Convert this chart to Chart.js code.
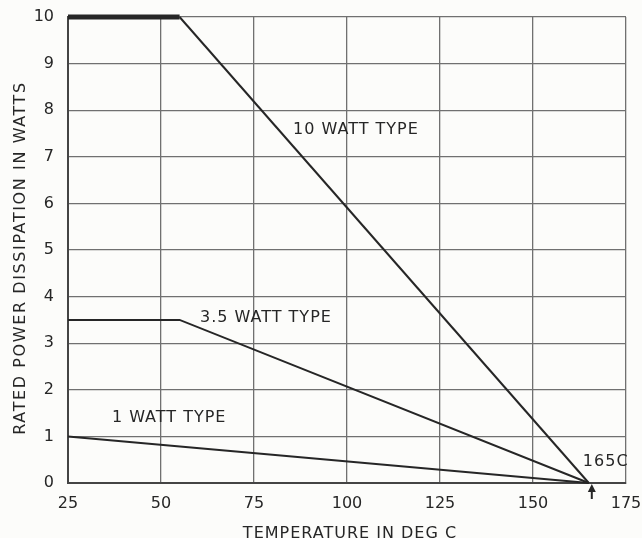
<!DOCTYPE html>
<html>
<head>
<meta charset="utf-8">
<script src="https://cdn.jsdelivr.net/npm/chart.js@4.4.1/dist/chart.umd.min.js"></script>
<style>
  html, body { margin: 0; padding: 0; background: #fcfcfa; }
  #wrap { width: 642px; height: 538px; }
</style>
</head>
<body>
<div id="wrap"><canvas id="derating"></canvas></div>
<script>
// derating curves: temperature (deg C) vs rated watts
const temp10 = [25, 55, 165];
const watts10 = [10, 10, 0];
const temp35 = [25, 55, 165];
const watts35 = [3.5, 3.5, 0];
const temp1 = [25, 165];
const watts1 = [1, 0];

const xTicks = [25, 50, 75, 100, 125, 150, 175];
const yTicks = [0, 1, 2, 3, 4, 5, 6, 7, 8, 9, 10];

const xTitle = 'TEMPERATURE IN DEG C';
const yTitle = 'RATED POWER DISSIPATION IN WATTS';

const INK = '#262626';
const GRID = '#707070';
const FONT = '"DejaVu Sans", sans-serif';

const pts = (xs, ys) => xs.map((x, i) => ({ x: x, y: ys[i] }));

// curve names and the 165C end mark, placed in data units
const notes = [
  { text: '10 WATT TYPE', x: 85.5, y: 7.57 },
  { text: '3.5 WATT TYPE', x: 60.5, y: 3.54 },
  { text: '1 WATT TYPE', x: 36.8, y: 1.39 },
  { text: '165C', x: 163.4, y: 0.45 }
];

const notesPlugin = {
  id: 'notes',
  afterDatasetsDraw(chart) {
    const { ctx, scales: { x, y } } = chart;
    ctx.save();
    ctx.fillStyle = INK;
    ctx.letterSpacing = '1px';
    ctx.font = '16px ' + FONT;
    ctx.textBaseline = 'middle';
    ctx.textAlign = 'left';
    notes.forEach(n => ctx.fillText(n.text, x.getPixelForValue(n.x), y.getPixelForValue(n.y)));

    // axis titles, spaced out like stencil lettering
    ctx.textAlign = 'center';
    ctx.fillText(xTitle, 350, 534);
    ctx.save();
    ctx.translate(21, 258);
    ctx.rotate(-Math.PI / 2);
    ctx.letterSpacing = '1.6px';
    ctx.fillText(yTitle, 0, 0);
    ctx.restore();

    // little arrow pointing up at 165
    const ax = x.getPixelForValue(165) + 3;
    const ay = y.getPixelForValue(0) + 1;
    ctx.strokeStyle = INK;
    ctx.lineWidth = 2;
    ctx.beginPath();
    ctx.moveTo(ax, ay + 4);
    ctx.lineTo(ax, ay + 15);
    ctx.stroke();
    ctx.beginPath();
    ctx.moveTo(ax, ay);
    ctx.lineTo(ax - 4, ay + 8);
    ctx.lineTo(ax + 4, ay + 8);
    ctx.closePath();
    ctx.fill();
    ctx.restore();
  }
};

const lineSet = (data) => ({
  data: data,
  borderColor: INK,
  borderWidth: 2,
  pointRadius: 0,
  tension: 0,
  clip: false,
  segment: {
    // the flat top of the 10 W curve is drawn heavier
    borderWidth: c => (c.p0.parsed.y === 10 && c.p1.parsed.y === 10 ? 5 : 2)
  }
});

new Chart(document.getElementById('derating'), {
  type: 'line',
  data: {
    datasets: [
      lineSet(pts(temp10, watts10)),
      lineSet(pts(temp35, watts35)),
      lineSet(pts(temp1, watts1))
    ]
  },
  options: {
    responsive: true,
    maintainAspectRatio: false,
    animation: false,
    layout: { padding: { top: 17, right: 16, left: 0, bottom: 0 } },
    plugins: { legend: { display: false }, tooltip: { enabled: false } },
    scales: {
      x: {
        type: 'linear',
        min: 25, max: 175,
        afterBuildTicks: s => { s.ticks = xTicks.map(v => ({ value: v })); },
        afterFit: s => { s.height = 55; s.paddingLeft = 0; s.paddingRight = 0; },
        grid: { color: GRID, lineWidth: 1.3, drawTicks: false },
        border: { color: '#444', width: 2 },
        ticks: { color: INK, font: { family: FONT, size: 16 }, padding: 11, maxRotation: 0 }
      },
      y: {
        min: 0, max: 10,
        afterBuildTicks: s => { s.ticks = yTicks.map(v => ({ value: v })); },
        afterFit: s => { s.width = 68; s.paddingTop = 0; s.paddingBottom = 0; },
        grid: { color: GRID, lineWidth: 1.3, drawTicks: false },
        border: { color: '#444', width: 2 },
        ticks: { color: INK, font: { family: FONT, size: 16 }, padding: 14 }
      }
    }
  },
  plugins: [notesPlugin]
});
</script>
</body>
</html>
